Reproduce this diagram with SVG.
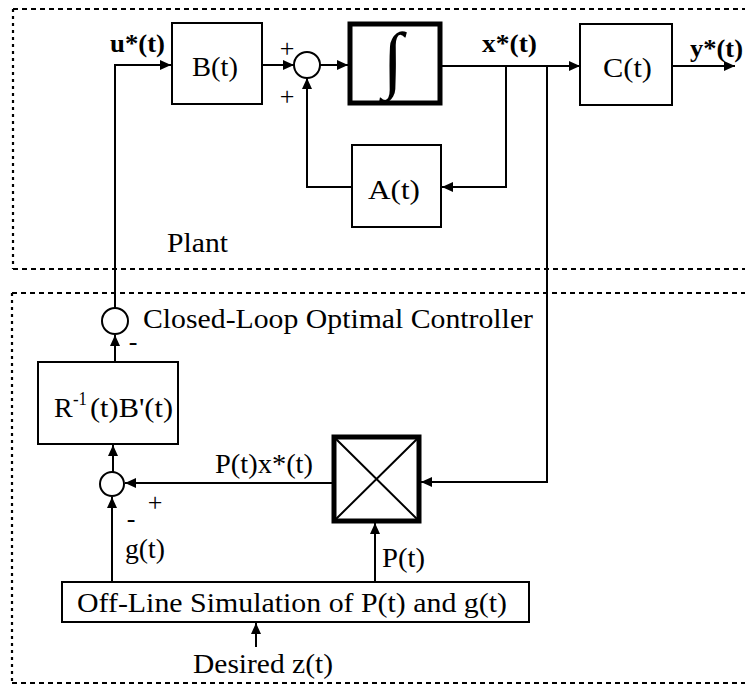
<svg xmlns="http://www.w3.org/2000/svg" width="745" height="687" viewBox="0 0 745 687">
<defs>
<marker id="arr" markerUnits="userSpaceOnUse" markerWidth="12" markerHeight="10" refX="11" refY="5" orient="auto">
<polygon points="0,0 11,5 0,10" fill="#000"/>
</marker>
<style>
.t{font-family:"Liberation Serif","Times New Roman",serif;font-size:28px;fill:#000}
.b{font-weight:bold;font-size:26px}
.s{font-size:26px}
.box{fill:#fff;stroke:#000;stroke-width:2}
.thick{fill:#fff;stroke:#000;stroke-width:5}
.c{fill:#fff;stroke:#000;stroke-width:2}
.ln{fill:none;stroke:#000;stroke-width:2}
.dh{fill:none;stroke:#000;stroke-width:2.2;stroke-dasharray:5,4}
.dv{fill:none;stroke:#000;stroke-width:2.2;stroke-dasharray:3,4}
</style>
</defs>
<rect width="745" height="687" fill="#fff"/>
<g id="regions">
<path class="dh" d="M13,9 H745 M13,269 H745 M12,293 H745 M12,683 H745"/>
<path class="dv" d="M13,9 V269 M12,293 V683"/>
<text class="t" x="167" y="252" textLength="61" lengthAdjust="spacingAndGlyphs">Plant</text>
<text class="t" x="143" y="328" textLength="390" lengthAdjust="spacingAndGlyphs">Closed-Loop Optimal Controller</text>
</g>
<g id="connectors">
<path class="ln" d="M115,308 V65 H171" marker-end="url(#arr)"/>
<path class="ln" d="M262,65 H294" marker-end="url(#arr)"/>
<path class="ln" d="M320,65 H348" marker-end="url(#arr)"/>
<path class="ln" d="M442,66 H580" marker-end="url(#arr)"/>
<path class="ln" d="M506,66 V187 H442" marker-end="url(#arr)"/>
<path class="ln" d="M352,187 H307 V78" marker-end="url(#arr)"/>
<path class="ln" d="M672,66 H735" marker-end="url(#arr)"/>
<path class="ln" d="M547,66 V482 H421" marker-end="url(#arr)"/>
<path class="ln" d="M332,483 H125" marker-end="url(#arr)"/>
<path class="ln" d="M112,582 V497" marker-end="url(#arr)"/>
<path class="ln" d="M113,472 V445" marker-end="url(#arr)"/>
<path class="ln" d="M115,362 V335" marker-end="url(#arr)"/>
<path class="ln" d="M375,582 V523" marker-end="url(#arr)"/>
<path class="ln" d="M256,647 V623" marker-end="url(#arr)"/>
</g>
<g id="labels">
<text class="t b" x="110" y="52" textLength="55" lengthAdjust="spacingAndGlyphs">u*(t)</text>
<text class="t b" x="482" y="52" textLength="55" lengthAdjust="spacingAndGlyphs">x*(t)</text>
<text class="t b" x="690" y="57" textLength="53" lengthAdjust="spacingAndGlyphs">y*(t)</text>
<text class="t s" x="287" y="57" text-anchor="middle">+</text>
<text class="t s" x="287" y="105" text-anchor="middle">+</text>
<text class="t s" x="133" y="350" text-anchor="middle">-</text>
<text class="t s" x="155" y="511" text-anchor="middle">+</text>
<text class="t s" x="131" y="527" text-anchor="middle">-</text>
<text class="t" x="215" y="473" textLength="98" lengthAdjust="spacingAndGlyphs">P(t)x*(t)</text>
<text class="t" x="125" y="558" textLength="40" lengthAdjust="spacingAndGlyphs">g(t)</text>
<text class="t" x="382" y="567" textLength="43" lengthAdjust="spacingAndGlyphs">P(t)</text>
<text class="t" x="193" y="673" textLength="140" lengthAdjust="spacingAndGlyphs">Desired z(t)</text>
</g>
<g id="B">
<rect class="box" x="172" y="23" width="90" height="81"/>
<text class="t" x="192" y="76" textLength="46" lengthAdjust="spacingAndGlyphs">B(t)</text>
</g>
<g id="sum1"><circle class="c" cx="307" cy="65" r="13"/></g>
<g id="integrator">
<rect class="thick" x="350" y="24" width="90" height="79"/>
<text class="t" x="393" y="84" text-anchor="middle" style="font-size:74px">∫</text>
</g>
<g id="A">
<rect class="box" x="352" y="145" width="89" height="82"/>
<text class="t" x="368" y="199" textLength="52" lengthAdjust="spacingAndGlyphs">A(t)</text>
</g>
<g id="C">
<rect class="box" x="580" y="24" width="92" height="81"/>
<text class="t" x="603" y="77" textLength="49" lengthAdjust="spacingAndGlyphs">C(t)</text>
</g>
<g id="sum2"><circle class="c" cx="115" cy="321" r="13"/></g>
<g id="Rgain">
<rect class="box" x="38" y="362" width="140" height="82"/>
<text class="t" x="54" y="417">R</text>
<text class="t" x="73" y="405" textLength="14" lengthAdjust="spacingAndGlyphs" style="font-size:19px">-1</text>
<text class="t" x="90" y="417" textLength="83" lengthAdjust="spacingAndGlyphs">(t)B'(t)</text>
</g>
<g id="sum3"><circle class="c" cx="112" cy="484" r="12"/></g>
<g id="multiplier">
<rect class="thick" x="334" y="437" width="85" height="84"/>
<path class="ln" d="M336,439 L417,519 M417,439 L336,519"/>
</g>
<g id="offline">
<rect class="box" x="62" y="582" width="467" height="40"/>
<text class="t" x="77" y="612" textLength="430" lengthAdjust="spacingAndGlyphs">Off-Line Simulation of P(t) and g(t)</text>
</g>
</svg>
